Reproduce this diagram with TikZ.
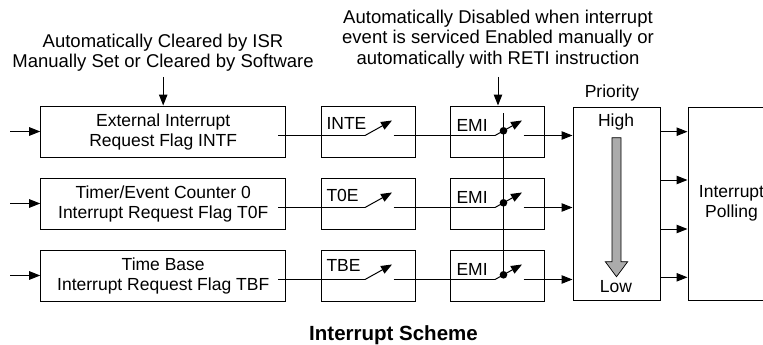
\documentclass[tikz,border=0pt]{standalone}
\usepackage{fontspec}
\setmainfont{Liberation Sans}
\usetikzlibrary{arrows.meta, positioning}

\begin{document}
\begin{tikzpicture}[x=1pt, y=-1pt, line width=1pt,
    >={Triangle[length=11pt, width=8.5pt]},
    every node/.style={font=\fontsize{17.5}{20}\selectfont, inner sep=0pt},
    flagbox/.style={draw, minimum width=245pt, minimum height=51pt, align=center},
    enbox/.style={draw, minimum width=94pt, minimum height=51pt},
    tallbox/.style={draw, minimum width=87pt, minimum height=193pt, align=center},
    note/.style={align=center, font=\fontsize{18.5}{20.5}\selectfont}]
                \useasboundingbox (0,0) rectangle (763,345);
                \clip (0,0) rectangle (763,345);

                % notes on top
                \node[note] (isrnote) at (163,52.5) {Automatically Cleared by ISR\\Manually Set or Cleared by Software};
                \node[note] (eminote) at (498,39) {Automatically Disabled when interrupt\\event is serviced Enabled manually or\\automatically with RETI instruction};

                % priority and polling
                \node[tallbox] (prio) at (616.5,203.5) {};
                \node[above=5pt of prio.north, xshift=-4.5pt] (priolbl) {Priority};
                \node (high) at (616,121.7) {High};
                \node (low) at (616,286.7) {Low};
                \filldraw[fill=black!33, line width=0.7pt] (612,137.7) -- (621,137.7) -- (621,261.7) -- (627.7,261.7)
                    -- (616.5,276.7) -- (605.3,261.7) -- (612,261.7) -- cycle;
                \node[tallbox] (poll) at (731.5,203.5) {Interrupt\\Polling};

                % one row per interrupt source
                \foreach \r/\yc/\flag/\en/\ey in {1/131.5/{External Interrupt\\Request Flag INTF}/INTE/8,
                                                 2/203.5/{Timer/Event Counter 0\\Interrupt Request Flag T0F}/T0E/8.5,
                                                 3/275.5/{Time Base\\Interrupt Request Flag TBF}/TBE/10.5} {
                    \node[flagbox] (flag\r) at (163.2,\yc) {\flag};
                    \node[enbox] (en\r) at (368,\yc) {};
                    \node[enbox] (emi\r) at (497.35,\yc) {};
                    \node[anchor=west] (enlbl\r) at (326,\yc-\ey) {\en};
                    \node[anchor=west] (emilbl\r) at (456,\yc-6.5) {EMI};

                    \coordinate (in\r) at (10,\yc);
                    \coordinate (fo\r) at (278,\yc+4);
                    \coordinate (ea\r) at (365,\yc+4);
                    \coordinate (eb\r) at (392,\yc-11);
                    \coordinate (ec\r) at (393.5,\yc+4);
                    \coordinate (ma\r) at (495,\yc+4);
                    \coordinate (mb\r) at (522,\yc-11);
                    \coordinate (mc\r) at (523.5,\yc+4);
                    \coordinate (md\r) at (503.5,\yc-0.7);

                    \draw[->] (in\r) -- (flag\r.west);
                    \draw (fo\r) -- (ea\r);
                    \draw[->] (ea\r) -- (eb\r);
                    \draw (ec\r) -- (ma\r);
                    \draw[->] (ma\r) -- (mb\r);
                    \fill (md\r) circle (3.8pt);
                    \draw[->] (mc\r) -- (mc\r -| prio.west);
                }

                % EMI common line and control arrows
                \coordinate (emitop) at (503.5,113);
                \draw (emitop) -- (md3);
                \coordinate (isrend) at (163.2,77);
                \draw[->] (isrend) -- (flag1.north);
                \coordinate (emiend) at (498,77);
                \draw[->] (emiend) -- (emiend |- emi1.north);

                % priority to polling
                \foreach \d in {71.8, 23.5, -25.5, -73.8}
                    \draw[->] ([yshift=\d pt]prio.east) -- ([yshift=\d pt]poll.west);

                \node[anchor=base, font=\bfseries\fontsize{20.5}{24}\selectfont] (title) at (393.5,340.5) {Interrupt Scheme};
            \end{tikzpicture}
\end{document}
